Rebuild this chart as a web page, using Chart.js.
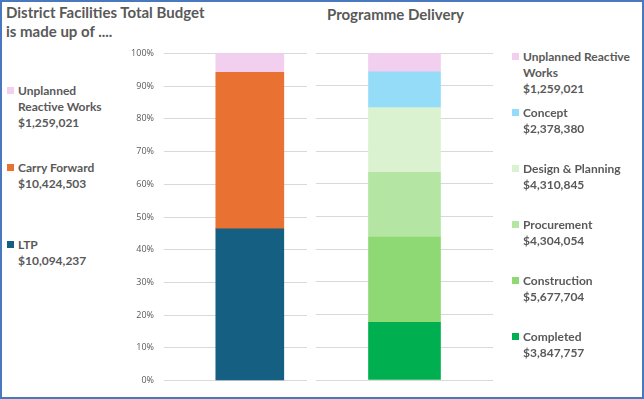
<!DOCTYPE html>
<html>
<head>
<meta charset="utf-8">
<script src="https://cdn.jsdelivr.net/npm/chart.js@4"></script>
<style>
  html, body { margin: 0; padding: 0; background: #fff; }
  #frame { position: absolute; left: 0; top: 0; width: 640px; height: 395px; border: 2px solid #4a78bf; }
  canvas { position: absolute; }
  .title { position: absolute; font: bold 15px Lato, sans-serif; color: #595959; line-height: 19px; white-space: nowrap; }
  .leg { position: absolute; font: bold 12px Lato, sans-serif; color: #595959; line-height: 16px; }
  .leg i { position: absolute; left: -11px; top: 4px; width: 7px; height: 7px; }
</style>
</head>
<body>
<div id="frame"></div>
<div class="title" style="left:6px; top:3px;">District Facilities Total Budget<br>is made up of ....</div>
<div class="title" style="left:327px; top:5px;">Programme Delivery</div>
<!-- left canvas is taller: its tick labels reserve ~15px above and below the plot -->
<canvas id="c-budget" width="200" height="358" style="left:120px; top:38px;"></canvas>
<canvas id="c-delivery" width="200" height="350" style="left:303px; top:40px;"></canvas>
<div id="leg-budget"></div>
<div id="leg-delivery"></div>
<script>
// budget make-up (bottom to top)
const budgetLabels = ['LTP', 'Carry Forward', 'Unplanned Reactive Works'];
const budgetValues = [10094237, 10424503, 1259021];
const budgetColors = ['#156082', '#E97132', '#F2CEEF'];

// programme delivery stages (bottom to top)
const deliveryLabels = ['Completed', 'Construction', 'Procurement', 'Design & Planning', 'Concept', 'Unplanned Reactive Works'];
const deliveryValues = [3847757, 5677704, 4304054, 4310845, 2378380, 1259021];
const deliveryColors = ['#00B050', '#8ED973', '#B4E5A2', '#DAF2D0', '#94DCF8', '#F2CEEF'];

const yTicks = [0, 10, 20, 30, 40, 50, 60, 70, 80, 90, 100];

const GREY = '#595959';
const money = v => '$' + v.toLocaleString('en-US');

function stackedBar(id, labels, values, colors, opts) {
    const total = values.reduce((a, b) => a + b, 0);
    return new Chart(document.getElementById(id), {
        type: 'bar',
        data: {
            datasets: labels.map((l, i) => ({
                label: l,
                data: [{ x: opts.barPos, y: values[i] / total * 100 }],
                backgroundColor: colors[i],
                barThickness: opts.barWidth,
            })),
        },
        options: {
            responsive: false,
            animation: false,
            layout: { padding: opts.pad },
            plugins: { legend: { display: false }, tooltip: { enabled: false } },
            scales: {
                // linear x so the bar can sit off-centre like in Excel
                x: { type: 'linear', min: 0, max: 1, offset: false, stacked: true, display: false },
                y: {
                    stacked: true, min: 0, max: 100,
                    border: { display: false },
                    grid: { color: '#d9d9d9', drawTicks: false },
                    afterBuildTicks(s) { s.ticks = yTicks.map(v => ({ value: v })); },
                    afterFit(s) { s.width = opts.axisWidth; },
                    ticks: {
                        display: opts.showTicks,
                        padding: 10,
                        color: GREY,
                        font: { family: 'Open Sans', size: 9 },
                        callback: v => v + '%',
                    },
                },
            },
        },
    });
}

stackedBar('c-budget', budgetLabels, budgetValues, budgetColors,
    { barPos: 0.6, barWidth: 68, pad: { top: 0, bottom: 0, right: 13, left: 0 }, axisWidth: 44, showTicks: true });
stackedBar('c-delivery', deliveryLabels, deliveryValues, deliveryColors,
    { barPos: 0.5, barWidth: 72, pad: { top: 13, bottom: 10, right: 10, left: 13 }, axisWidth: 0, showTicks: false });

// legends, top item first as in the picture
function legend(id, labels, values, colors, left, top, step, wrapAt) {
    const box = document.getElementById(id);
    for (let i = labels.length - 1, n = 0; i >= 0; i--, n++) {
        const el = document.createElement('div');
        el.className = 'leg';
        el.style.left = left + 'px';
        el.style.top = (top + n * step) + 'px';
        el.style.width = wrapAt + 'px';
        el.innerHTML = `<i style="background:${colors[i]}"></i>${labels[i]}<br>${money(values[i])}`;
        box.appendChild(el);
    }
}
legend('leg-budget', budgetLabels, budgetValues, budgetColors, 18, 83, 77, 95);
legend('leg-delivery', deliveryLabels, deliveryValues, deliveryColors, 523, 49, 56, 118);
</script>
</body>
</html>
